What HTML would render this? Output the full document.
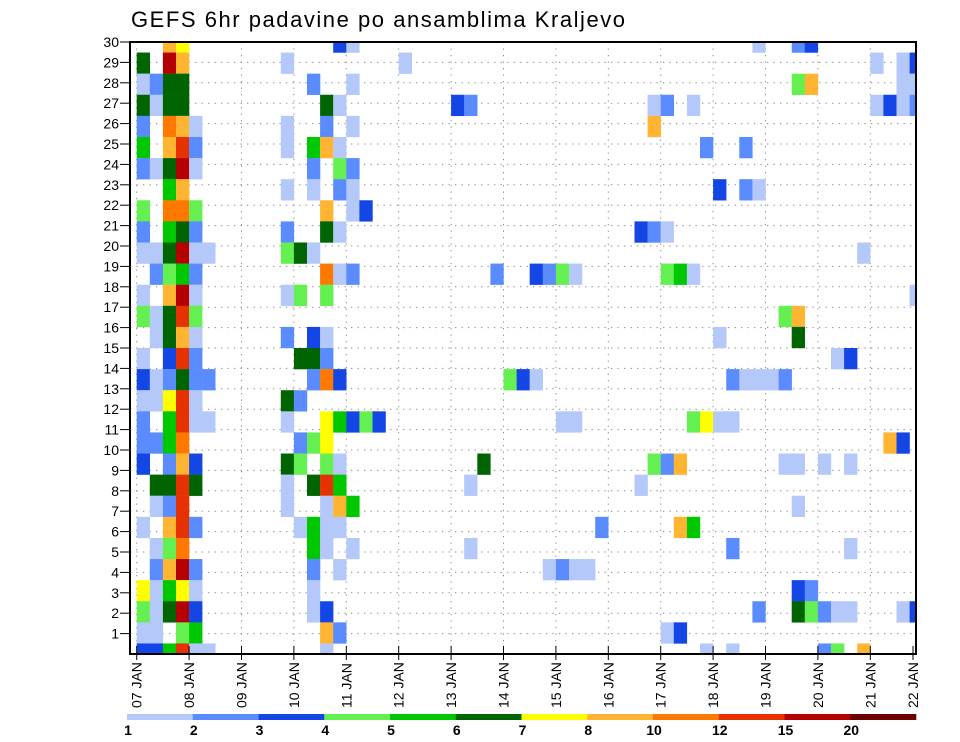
<!DOCTYPE html>
<html><head><meta charset="utf-8"><title>GEFS 6hr padavine po ansamblima Kraljevo</title>
<style>html,body{margin:0;padding:0;background:#fff;}svg{display:block;font-family:"Liberation Sans",sans-serif;}</style>
</head><body>
<svg id="chart" width="960" height="742" viewBox="0 0 960 742" xmlns="http://www.w3.org/2000/svg">
<defs><clipPath id="plotclip"><rect x="130" y="42" width="786" height="612"/></clipPath></defs>
<text x="131" y="27" font-size="22" textLength="494" lengthAdjust="spacing" fill="#000">GEFS 6hr padavine po ansamblima Kraljevo</text>
<g id="grid"></g>
<g id="cells" clip-path="url(#plotclip)"></g>
<rect x="130" y="42" width="786" height="612" fill="none" stroke="#000" stroke-width="2"/>
<g id="axes"></g>
<g id="legend"></g>
</svg>
<script>
// ---- data ----
const dayLabels = ["07 JAN","08 JAN","09 JAN","10 JAN","11 JAN","12 JAN","13 JAN","14 JAN","15 JAN","16 JAN","17 JAN","18 JAN","19 JAN","20 JAN","21 JAN","22 JAN"];
const yTickLabels = [1,2,3,4,5,6,7,8,9,10,11,12,13,14,15,16,17,18,19,20,21,22,23,24,25,26,27,28,29,30];
const levels = [1,2,3,4,5,6,7,8,10,12,15,20];
const levelColors = ["#b4c8fa","#5a8cff","#1446e6","#64f050","#00c800","#006400","#ffff00","#ffb432","#ff7800","#e63200","#b40000","#6e0000"];
// ensemble rows, top to bottom; each entry [6h step index, precipitation mm]
const row00 = [[2,9],[3,7.5],[15,3.5],[16,1.5],[47,1.5],[50,2.5],[51,3.5]];
const row01 = [[0,6.5],[2,17],[3,9],[11,1.5],[20,1.5],[56,1.5],[58,1.5],[59,3.5]];
const row02 = [[0,1.5],[1,2.5],[2,6.5],[3,6.5],[13,2.5],[16,1.5],[50,4.5],[51,9],[58,1.5],[59,1.5]];
const row03 = [[0,6.5],[1,1.5],[2,6.5],[3,6.5],[14,6.5],[15,1.5],[24,3.5],[25,2.5],[39,1.5],[40,2.5],[42,1.5],[56,1.5],[57,3.5],[58,1.5],[59,2.5]];
const row04 = [[0,2.5],[2,11],[3,9],[4,1.5],[11,1.5],[14,2.5],[16,1.5],[39,9]];
const row05 = [[0,5.5],[2,9],[3,13.5],[4,2.5],[11,1.5],[13,5.5],[14,9],[15,1.5],[43,2.5],[46,2.5]];
const row06 = [[0,2.5],[1,1.5],[2,6.5],[3,17],[4,1.5],[13,2.5],[15,4.5],[16,2.5]];
const row07 = [[2,5.5],[3,9],[11,1.5],[13,1.5],[15,2.5],[16,1.5],[44,3.5],[46,2.5],[47,1.5]];
const row08 = [[0,4.5],[2,11],[3,11],[4,4.5],[14,9],[16,1.5],[17,3.5]];
const row09 = [[0,2.5],[2,5.5],[3,6.5],[4,2.5],[11,2.5],[14,6.5],[15,1.5],[38,3.5],[39,2.5],[40,1.5]];
const row10 = [[0,1.5],[1,1.5],[2,6.5],[3,17],[4,1.5],[5,1.5],[11,4.5],[12,6.5],[13,1.5],[55,1.5]];
const row11 = [[1,2.5],[2,4.5],[3,5.5],[4,2.5],[14,11],[15,1.5],[16,2.5],[27,2.5],[30,3.5],[31,2.5],[32,4.5],[33,1.5],[40,4.5],[41,5.5],[42,1.5]];
const row12 = [[0,1.5],[2,9],[3,17],[4,1.5],[11,1.5],[12,4.5],[14,4.5],[59,1.5]];
const row13 = [[0,4.5],[1,1.5],[2,6.5],[3,13.5],[4,4.5],[49,4.5],[50,9]];
const row14 = [[1,1.5],[2,6.5],[3,9],[4,1.5],[11,2.5],[13,3.5],[14,1.5],[44,1.5],[50,6.5]];
const row15 = [[0,1.5],[2,3.5],[3,13.5],[4,2.5],[12,6.5],[13,6.5],[14,2.5],[53,1.5],[54,3.5]];
const row16 = [[0,3.5],[1,1.5],[2,2.5],[3,6.5],[4,2.5],[5,2.5],[13,2.5],[14,11],[15,3.5],[28,4.5],[29,3.5],[30,1.5],[45,2.5],[46,1.5],[47,1.5],[48,1.5],[49,2.5]];
const row17 = [[0,1.5],[1,1.5],[2,7.5],[3,13.5],[4,1.5],[11,6.5],[12,2.5]];
const row18 = [[0,2.5],[2,5.5],[3,13.5],[4,1.5],[5,1.5],[11,1.5],[14,7.5],[15,5.5],[16,3.5],[17,4.5],[18,3.5],[32,1.5],[33,1.5],[42,4.5],[43,7.5],[44,1.5],[45,1.5]];
const row19 = [[0,2.5],[1,2.5],[2,5.5],[3,11],[12,2.5],[13,4.5],[14,7.5],[57,9],[58,3.5]];
const row20 = [[0,3.5],[2,2.5],[3,9],[4,3.5],[11,6.5],[12,4.5],[14,4.5],[15,1.5],[26,6.5],[39,4.5],[40,2.5],[41,9],[49,1.5],[50,1.5],[52,1.5],[54,1.5]];
const row21 = [[1,6.5],[2,6.5],[3,13.5],[4,6.5],[11,1.5],[13,6.5],[14,13.5],[15,5.5],[25,1.5],[38,1.5]];
const row22 = [[1,1.5],[2,2.5],[3,13.5],[11,1.5],[14,1.5],[15,9],[16,5.5],[50,1.5]];
const row23 = [[0,1.5],[2,9],[3,13.5],[4,2.5],[12,1.5],[13,5.5],[14,1.5],[15,1.5],[35,2.5],[41,9],[42,5.5]];
const row24 = [[1,1.5],[2,4.5],[3,11],[13,5.5],[14,1.5],[16,1.5],[25,1.5],[45,2.5],[54,1.5]];
const row25 = [[1,2.5],[2,9],[3,17],[4,2.5],[13,2.5],[15,1.5],[31,1.5],[32,2.5],[33,1.5],[34,1.5]];
const row26 = [[0,7.5],[1,1.5],[2,5.5],[3,7.5],[4,1.5],[13,1.5],[50,3.5],[51,2.5]];
const row27 = [[0,4.5],[1,1.5],[2,6.5],[3,17],[4,3.5],[13,1.5],[14,3.5],[47,2.5],[50,6.5],[51,4.5],[52,2.5],[53,1.5],[54,1.5],[58,1.5],[59,3.5]];
const row28 = [[0,1.5],[1,1.5],[3,4.5],[4,5.5],[14,9],[15,2.5],[40,1.5],[41,3.5]];
const row29 = [[0,3.5],[1,3.5],[2,5.5],[3,13.5],[4,1.5],[5,1.5],[14,1.5],[43,1.5],[45,1.5],[52,2.5],[53,4.5],[55,9]];
const rows = [row00,row01,row02,row03,row04,row05,row06,row07,row08,row09,row10,row11,row12,row13,row14,row15,row16,row17,row18,row19,row20,row21,row22,row23,row24,row25,row26,row27,row28,row29];

// ---- scales ----
const NS = "http://www.w3.org/2000/svg";
const plotL = 130, plotR = 916, plotT = 42, plotB = 654;
const x0 = 136.7, stepW = 13.1, dayW = 52.4;
function xStep(i){ return x0 + i*stepW; }
function xDay(d){ return x0 + d*dayW; }
const bandH = (plotB-plotT)/(rows.length-1);
function yBand(b){ return plotT + b*bandH; }
function yTick(v){ return plotB - v*(plotB-plotT)/30; }
function colorFor(v){
  let idx = -1;
  for (let k=0;k<levels.length;k++){ if (v >= levels[k]) idx = k; }
  return idx < 0 ? null : levelColors[idx];
}
function mk(tag, attrs, parent){
  const el = document.createElementNS(NS, tag);
  for (const k in attrs) el.setAttribute(k, attrs[k]);
  parent.appendChild(el);
  return el;
}

// grid
const grid = document.getElementById("grid");
for (let k=1;k<30;k++){
  const y = yTick(k);
  const gl = mk("line",{x1:plotL,x2:plotR,y1:y,y2:y,stroke:"#888","stroke-width":1,"stroke-dasharray":"1.3 5.2"},grid);
  
  
}
for (let d=0; d<15; d++){
  const x = xDay(d);
  const gl = mk("line",{x1:x,x2:x,y1:plotT,y2:plotB,stroke:"#888","stroke-width":1,"stroke-dasharray":"1.3 5.2"},grid);
  
  
}

// cells
const cells = document.getElementById("cells");
rows.forEach((row,b)=>{
  row.forEach(([i,v])=>{
    const c = colorFor(v);
    if (!c) return;
    const r = mk("rect",{x:xStep(i),y:yBand(b)-bandH/2,width:stepW+0.2,height:bandH+0.2,fill:c},cells);
    
    
  });
});

// axes
const axes = document.getElementById("axes");
yTickLabels.forEach(v=>{
  const y = yTick(v);
  const t = mk("line",{x1:120,x2:plotL,y1:y,y2:y,stroke:"#000","stroke-width":1},axes);
  
  
  const lab = mk("text",{x:119,y:y+5,"font-size":14,"text-anchor":"end",fill:"#000"},axes);
  lab.textContent = v;
  
  
});
dayLabels.forEach((lbl,d)=>{
  const x = d===15 ? 913 : xDay(d);
  const t = mk("line",{x1:x,x2:x,y1:plotB-8,y2:plotB+6,stroke:"#000","stroke-width":1},axes);
  
  
  const lab = mk("text",{x:0,y:0,"font-size":14,fill:"#000",transform:"translate("+(x+5)+",708) rotate(-90)"},axes);
  lab.textContent = lbl;
  
  
});

// legend
const legend = document.getElementById("legend");
const legL = 127, legW = (916-127)/levels.length;
levelColors.forEach((c,k)=>{
  const r = mk("rect",{x:legL+k*legW,y:714,width:legW+0.3,height:6,fill:c},legend);
  
  
});
levels.forEach((v,k)=>{
  const t = mk("text",{x:legL+k*legW+1,y:735,"font-size":14,"font-weight":"bold","text-anchor":"middle",fill:"#000"},legend);
  t.textContent = v;
  
  
});
</script>
</body></html>
